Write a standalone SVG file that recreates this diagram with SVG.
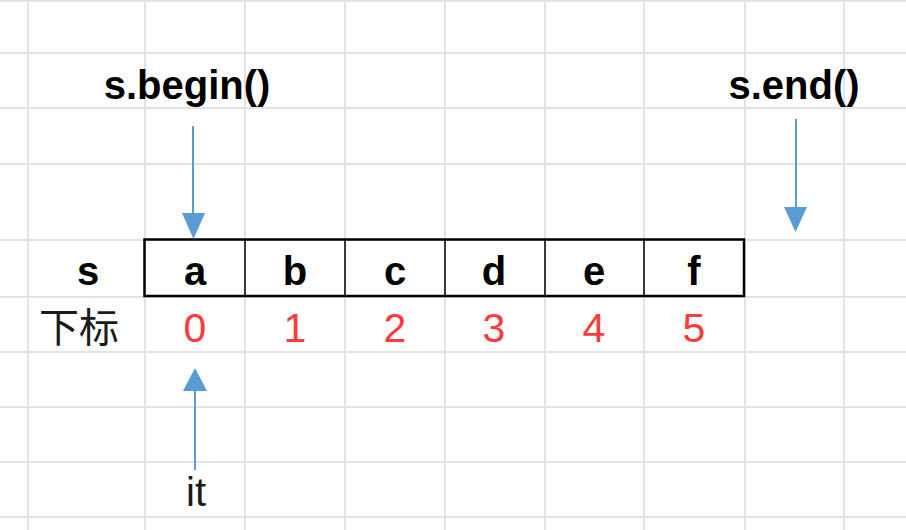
<svg xmlns="http://www.w3.org/2000/svg" width="906" height="530" viewBox="0 0 906 530">
<style>
.grid line{stroke:#e3e3e3;stroke-width:2}
.lbl{font-family:"Liberation Sans","Noto Sans CJK SC",sans-serif;font-weight:bold;font-size:40px;fill:#000;text-anchor:middle}
.cell{font-family:"Liberation Sans",sans-serif;font-weight:bold;font-size:40px;fill:#000;text-anchor:middle}
.idx{font-family:"Liberation Sans",sans-serif;font-size:41px;fill:#ff3b3b;text-anchor:middle}
.plain{font-family:"Liberation Sans","Noto Sans CJK SC",sans-serif;font-size:40px;fill:#1a1a1a;text-anchor:middle}
.conn line{stroke:#5b9bd5;stroke-width:2}
.conn polygon{fill:#5b9bd5}
.box{fill:none;stroke:#000;stroke-width:2.5}
.div{stroke:#000;stroke-width:1.5}
</style>
<rect width="906" height="530" fill="#fff"/>
<g class="grid">
<line x1="0" y1="1" x2="906" y2="1"/>
<line x1="0" y1="53" x2="906" y2="53"/>
<line x1="0" y1="108" x2="906" y2="108"/>
<line x1="0" y1="164" x2="906" y2="164"/>
<line x1="0" y1="240" x2="906" y2="240"/>
<line x1="0" y1="297" x2="906" y2="297"/>
<line x1="0" y1="352" x2="906" y2="352"/>
<line x1="0" y1="407" x2="906" y2="407"/>
<line x1="0" y1="462" x2="906" y2="462"/>
<line x1="0" y1="517" x2="906" y2="517"/>
<line x1="28" y1="0" x2="28" y2="530"/>
<line x1="145" y1="0" x2="145" y2="530"/>
<line x1="245" y1="0" x2="245" y2="530"/>
<line x1="345" y1="0" x2="345" y2="530"/>
<line x1="445" y1="0" x2="445" y2="530"/>
<line x1="545" y1="0" x2="545" y2="530"/>
<line x1="644" y1="0" x2="644" y2="530"/>
<line x1="745" y1="0" x2="745" y2="530"/>
<line x1="844" y1="0" x2="844" y2="530"/>
</g>
<g id="table">
<rect class="box" x="144.5" y="239.5" width="599.5" height="56.5"/>
<line class="div" x1="245" y1="240" x2="245" y2="296"/>
<line class="div" x1="345" y1="240" x2="345" y2="296"/>
<line class="div" x1="445" y1="240" x2="445" y2="296"/>
<line class="div" x1="545" y1="240" x2="545" y2="296"/>
<line class="div" x1="644" y1="240" x2="644" y2="296"/>
</g>
<g id="label-begin"><text class="lbl" x="187" y="99">s.begin()</text></g>
<g id="label-end"><text class="lbl" x="794" y="99">s.end()</text></g>
<g id="label-s"><text class="cell" x="88" y="285">s</text></g>
<g id="cell-a"><text class="cell" x="195" y="285">a</text></g>
<g id="cell-b"><text class="cell" x="295" y="285">b</text></g>
<g id="cell-c"><text class="cell" x="395" y="285">c</text></g>
<g id="cell-d"><text class="cell" x="494" y="285">d</text></g>
<g id="cell-e"><text class="cell" x="594" y="285">e</text></g>
<g id="cell-f"><text class="cell" x="694" y="285">f</text></g>
<g id="label-index"><text class="plain" x="79" y="342" font-size="41">下标</text></g>
<g id="idx-0"><text class="idx" x="195" y="342">0</text></g>
<g id="idx-1"><text class="idx" x="295" y="342">1</text></g>
<g id="idx-2"><text class="idx" x="395" y="342">2</text></g>
<g id="idx-3"><text class="idx" x="494" y="342">3</text></g>
<g id="idx-4"><text class="idx" x="594" y="342">4</text></g>
<g id="idx-5"><text class="idx" x="694" y="342">5</text></g>
<g id="label-it"><text class="plain" x="196" y="506">it</text></g>
<g class="conn" id="connectors">
<line x1="193" y1="126" x2="193" y2="215"/>
<polygon points="182,213 205,213 193.5,239"/>
<line x1="796" y1="119" x2="796" y2="209"/>
<polygon points="784,207 807,207 795.5,232"/>
<line x1="195" y1="470" x2="195" y2="389"/>
<polygon points="183,391 207,391 195,368"/>
</g>
</svg>
